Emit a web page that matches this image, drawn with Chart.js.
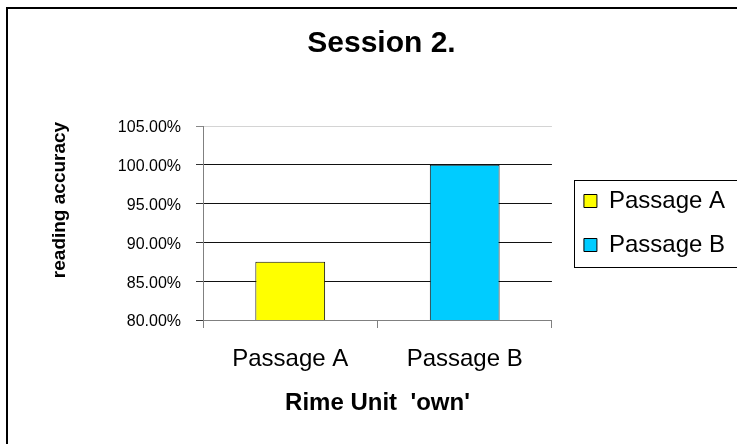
<!DOCTYPE html>
<html>
<head>
<meta charset="utf-8">
<script src="https://cdn.jsdelivr.net/npm/chart.js@4/dist/chart.umd.min.js"></script>
<style>
html, body { margin: 0; padding: 0; background: #fff; }
#wrap { width: 737px; height: 444px; }
canvas { display: block; }
</style>
</head>
<body>
<div id="wrap"><canvas id="c" width="737" height="444"></canvas></div>
<script>
// Reading accuracy per passage, session 2
const categories = ['Passage A', 'Passage B'];
const accuracy = [87.5, 100];
const barColors = ['#FFFF00', '#00CCFF'];
const yTicks = [80, 85, 90, 95, 100, 105];
const chartTitle = 'Session 2.';
const xTitle = "Rime Unit  'own'";
const yTitle = 'reading accuracy';

const FONT = "'Liberation Sans', Arial, Helvetica, sans-serif";
Chart.defaults.font.family = FONT;
Chart.defaults.color = '#000';

// White page, outer chart frame, rotated y caption and legend frame
const framePlugin = {
  id: 'framePlugin',
  beforeDraw(chart) {
    const ctx = chart.ctx;
    ctx.save();
    ctx.fillStyle = '#fff';
    ctx.fillRect(0, 0, chart.width, chart.height);
    ctx.strokeStyle = '#000';
    ctx.lineWidth = 2;
    ctx.strokeRect(7, 8, chart.width + 20, chart.height + 20);
    ctx.restore();
  },
  afterDraw(chart) {
    const ctx = chart.ctx;
    const area = chart.chartArea;
    ctx.save();
    ctx.font = 'bold 19px ' + FONT;
    ctx.fillStyle = '#000';
    ctx.textAlign = 'center';
    ctx.textBaseline = 'middle';
    ctx.translate(60, (area.top + area.bottom) / 2 - 23);
    ctx.rotate(-Math.PI / 2);
    ctx.fillText(yTitle, 0, 0);
    ctx.restore();

    const lg = chart.legend;
    const hb = lg && lg.legendHitBoxes;
    if (hb && hb.length) {
      const last = hb[hb.length - 1];
      const top = Math.round(hb[0].top - 9);
      const bottom = Math.round(last.top + last.height + 10);
      ctx.save();
      ctx.strokeStyle = '#000';
      ctx.lineWidth = 1;
      ctx.strokeRect(Math.round(lg.left + 10) + 0.5, top + 0.5, chart.width, bottom - top);
      ctx.restore();
    }
  }
};

const yGridColor = (c) => {
  const v = c.tick && c.tick.value;
  if (v === 105) return '#d4d4d4';
  if (v === 80) return '#808080';
  return '#111';
};

new Chart(document.getElementById('c'), {
  type: 'bar',
  data: {
    labels: categories,
    datasets: [{
      data: accuracy,
      backgroundColor: barColors,
      borderColor: '#111',
      borderWidth: 1,
      borderSkipped: false,
      barPercentage: 0.4,
      categoryPercentage: 1.0
    }]
  },
  options: {
    responsive: false,
    animation: false,
    devicePixelRatio: 1,
    layout: { padding: { left: 28, right: 2, top: 0, bottom: 0 } },
    plugins: {
      title: {
        display: true,
        text: chartTitle,
        color: '#000',
        font: { size: 30, weight: 'bold' },
        padding: { top: 26, bottom: 64 }
      },
      legend: {
        display: true,
        position: 'right',
        align: 'center',
        fullSize: false,
        maxWidth: 220,
        labels: {
          font: { size: 24 },
          color: '#000',
          boxWidth: 13,
          boxHeight: 13,
          padding: 20,
          generateLabels: () => categories.map((name, i) => ({
            text: name,
            fillStyle: barColors[i],
            strokeStyle: '#000',
            lineWidth: 1,
            hidden: false,
            index: i,
            datasetIndex: 0
          }))
        }
      },
      tooltip: { enabled: false }
    },
    scales: {
      x: {
        grid: {
          display: true,
          drawOnChartArea: false,
          drawTicks: true,
          tickLength: 8,
          color: '#808080',
          offset: true
        },
        border: { color: '#808080', width: 1 },
        ticks: { padding: 17, font: { size: 24 }, color: '#000' },
        title: {
          display: true,
          text: xTitle,
          color: '#000',
          font: { size: 24, weight: 'bold' },
          padding: { top: 0, bottom: 26 }
        },
        afterFit: (s) => { s.height = 124; }
      },
      y: {
        min: 80,
        max: 105,
        afterBuildTicks: (s) => { s.ticks = yTicks.map(v => ({ value: v })); },
        ticks: {
          padding: 15,
          labelOffset: 2,
          font: { size: 16 },
          color: '#000',
          callback: (v) => Number(v).toFixed(2) + '%'
        },
        grid: {
          color: yGridColor,
          tickColor: (c) => (c.tick && c.tick.value === 105 ? '#888' : '#333'),
          tickLength: 7,
          lineWidth: 1
        },
        border: { color: '#808080', width: 1 },
        afterFit: (s) => { s.width = 175; }
      },
      ySpacer: {
        type: 'linear',
        position: 'right',
        display: true,
        grid: { display: false, drawTicks: false },
        ticks: { display: false },
        border: { display: false },
        afterFit: (s) => { s.width = 12; }
      }
    }
  },
  plugins: [framePlugin]
});
</script>
</body>
</html>
